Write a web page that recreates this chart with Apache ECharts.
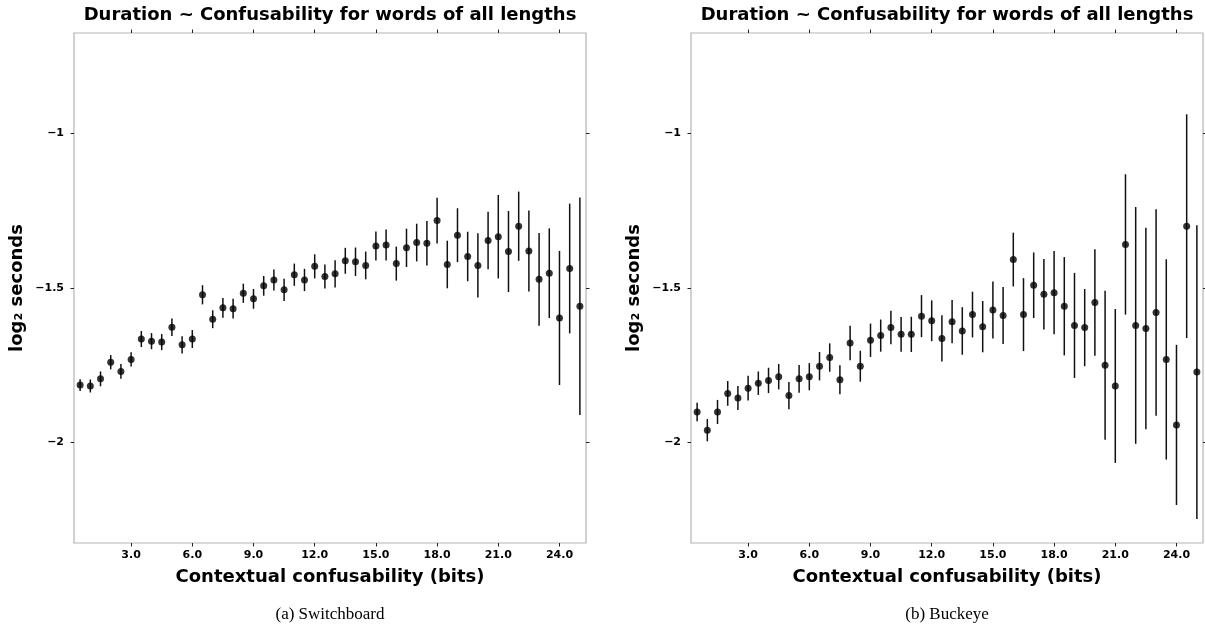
<!DOCTYPE html>
<html>
<head>
<meta charset="utf-8">
<title>Duration ~ Confusability</title>
<script src="https://cdn.jsdelivr.net/npm/echarts@6/dist/echarts.min.js"></script>
<style>
  html, body { margin: 0; padding: 0; background: #fff; }
  #chart { width: 1205px; height: 634px; }
</style>
</head>
<body>
<div id="chart"></div>
<script>
// bin centres (bits of contextual confusability)
const xBits = [0.5, 1.0, 1.5, 2.0, 2.5, 3.0, 3.5, 4.0, 4.5, 5.0,
  5.5, 6.0, 6.5, 7.0, 7.5, 8.0, 8.5, 9.0, 9.5, 10.0,
  10.5, 11.0, 11.5, 12.0, 12.5, 13.0, 13.5, 14.0, 14.5, 15.0,
  15.5, 16.0, 16.5, 17.0, 17.5, 18.0, 18.5, 19.0, 19.5, 20.0,
  20.5, 21.0, 21.5, 22.0, 22.5, 23.0, 23.5, 24.0, 24.5, 25.0];

// Switchboard: mean log2 duration and half error bar
const swbMean = [-1.814, -1.817, -1.794, -1.740, -1.770, -1.731, -1.665, -1.672, -1.675, -1.627,
  -1.684, -1.665, -1.522, -1.601, -1.564, -1.567, -1.517, -1.535, -1.493, -1.474,
  -1.506, -1.457, -1.474, -1.430, -1.463, -1.454, -1.412, -1.415, -1.427, -1.364,
  -1.361, -1.421, -1.370, -1.353, -1.355, -1.282, -1.424, -1.329, -1.398, -1.427,
  -1.346, -1.334, -1.382, -1.300, -1.380, -1.472, -1.452, -1.597, -1.437, -1.559];
const swbErr = [0.019, 0.021, 0.024, 0.023, 0.024, 0.023, 0.026, 0.026, 0.026, 0.028,
  0.028, 0.029, 0.031, 0.029, 0.032, 0.032, 0.031, 0.032, 0.032, 0.034,
  0.036, 0.036, 0.036, 0.039, 0.039, 0.044, 0.042, 0.046, 0.045, 0.047,
  0.050, 0.055, 0.062, 0.061, 0.072, 0.074, 0.077, 0.087, 0.080, 0.104,
  0.093, 0.135, 0.131, 0.112, 0.131, 0.150, 0.145, 0.217, 0.210, 0.352];

// Buckeye
const bucMean = [-1.901, -1.960, -1.901, -1.841, -1.856, -1.824, -1.808, -1.799, -1.787, -1.848,
  -1.794, -1.787, -1.753, -1.725, -1.797, -1.678, -1.753, -1.669, -1.654, -1.628,
  -1.650, -1.650, -1.591, -1.606, -1.663, -1.609, -1.639, -1.586, -1.625, -1.571,
  -1.589, -1.408, -1.586, -1.491, -1.520, -1.515, -1.559, -1.621, -1.628, -1.547,
  -1.750, -1.817, -1.359, -1.621, -1.631, -1.579, -1.731, -1.943, -1.300, -1.772];
const bucErr = [0.030, 0.036, 0.039, 0.040, 0.039, 0.040, 0.038, 0.041, 0.041, 0.044,
  0.045, 0.044, 0.046, 0.046, 0.047, 0.056, 0.050, 0.054, 0.052, 0.054,
  0.056, 0.057, 0.068, 0.066, 0.075, 0.070, 0.077, 0.074, 0.083, 0.092,
  0.092, 0.087, 0.118, 0.106, 0.114, 0.135, 0.159, 0.170, 0.125, 0.172,
  0.241, 0.249, 0.227, 0.383, 0.326, 0.334, 0.324, 0.259, 0.362, 0.475];

const xTicks = [3, 6, 9, 12, 15, 18, 21, 24];
const yTicks = [-2, -1.5, -1];

const panelTitle = "Duration ~ Confusability for words of all lengths";
const captions = ["(a) Switchboard", "(b) Buckeye"];

const chart = echarts.init(document.getElementById("chart"));

const panels = [
  { left: 74, mean: swbMean, err: swbErr },
  { left: 691, mean: bucMean, err: bucErr }
];
const boxTop = 33;
const boxW = 512;
const boxH = 510;

const tickStyle = { show: true, length: 3.5, lineStyle: { color: "#222", width: 1 } };
const labelFont = { fontFamily: "DejaVu Sans", fontWeight: "bold", fontSize: 11, color: "#000" };
const nameFont = { fontFamily: "DejaVu Sans", fontWeight: "bold", fontSize: 18, color: "#000" };

const fmtY = v => (v < 0 ? "\u2212" : "") + Math.abs(v);

const grid = [], xAxis = [], yAxis = [], series = [], graphic = [];

panels.forEach((p, i) => {
  grid.push({
    left: p.left, top: boxTop, width: boxW, height: boxH,
    show: true, borderColor: "#b5b5b5", borderWidth: 1.2, backgroundColor: "#fff"
  });

  const xBase = {
    gridIndex: i, type: "value", min: 0.2, max: 25.3,
    axisLine: { show: false }, splitLine: { show: false },
    axisTick: Object.assign({ customValues: xTicks }, tickStyle)
  };
  xAxis.push(Object.assign({}, xBase, {
    position: "bottom",
    name: "Contextual confusability (bits)",
    nameLocation: "middle", nameGap: 25, nameTextStyle: nameFont,
    axisLabel: Object.assign({ customValues: xTicks, margin: 7, formatter: v => v.toFixed(1) }, labelFont)
  }));
  xAxis.push(Object.assign({}, xBase, { position: "top", axisLabel: { show: false } }));

  const yBase = {
    gridIndex: i, type: "value", min: -2.325, max: -0.675,
    axisLine: { show: false }, splitLine: { show: false },
    axisTick: Object.assign({ customValues: yTicks }, tickStyle)
  };
  yAxis.push(Object.assign({}, yBase, {
    position: "left",
    name: "log\u2082 seconds",
    nameLocation: "middle", nameGap: 48, nameTextStyle: nameFont,
    axisLabel: Object.assign({ customValues: yTicks, margin: 10, formatter: fmtY }, labelFont)
  }));
  yAxis.push(Object.assign({}, yBase, { position: "right", axisLabel: { show: false } }));

  // error bars
  series.push({
    type: "custom",
    xAxisIndex: i * 2, yAxisIndex: i * 2,
    data: xBits.map((x, k) => [x, p.mean[k] - p.err[k], p.mean[k] + p.err[k]]),
    encode: { x: 0, y: [1, 2] },
    silent: true,
    renderItem: (params, api) => {
      const lo = api.coord([api.value(0), api.value(1)]);
      const hi = api.coord([api.value(0), api.value(2)]);
      return {
        type: "line",
        shape: { x1: lo[0], y1: lo[1], x2: hi[0], y2: hi[1] },
        style: { stroke: "#111", lineWidth: 1.5 }
      };
    }
  });
  // means
  series.push({
    type: "scatter",
    xAxisIndex: i * 2, yAxisIndex: i * 2,
    data: xBits.map((x, k) => [x, p.mean[k]]),
    symbol: "circle", symbolSize: 7,
    itemStyle: { color: "#000" },
    silent: true
  });

  const cx = p.left + boxW / 2;
  graphic.push({
    type: "text", x: cx, y: 15,
    style: { text: panelTitle, align: "center", verticalAlign: "middle",
      font: 'bold 18px "DejaVu Sans"', fill: "#000" }
  });
  graphic.push({
    type: "text", x: cx, y: 615,
    style: { text: captions[i], align: "center", verticalAlign: "middle",
      font: '17px "Liberation Serif"', fill: "#000" }
  });
});

chart.setOption({
  animation: false,
  backgroundColor: "#fff",
  grid, xAxis, yAxis, series, graphic
});
</script>
</body>
</html>
